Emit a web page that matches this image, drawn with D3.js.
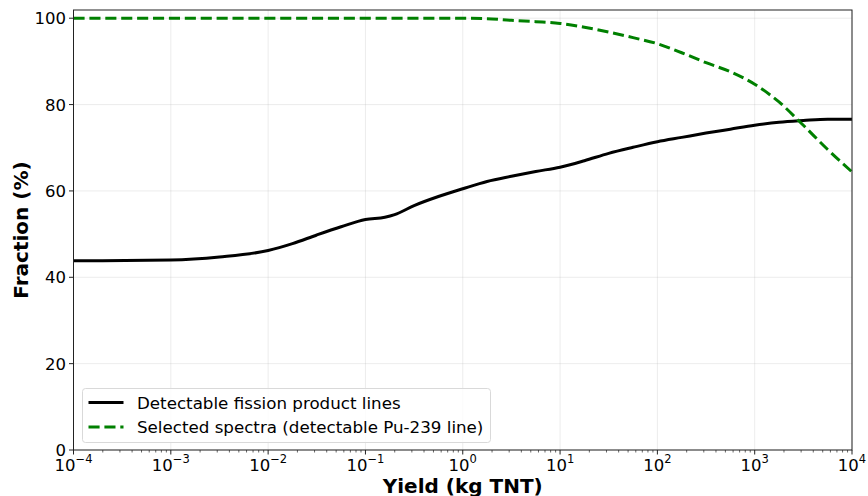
<!DOCTYPE html>
<html>
<head>
<meta charset="utf-8">
<script src="https://cdn.jsdelivr.net/npm/d3@7"></script>
<style>
  html, body { margin: 0; padding: 0; background: #fff; }
  svg { display: block; font-family: "DejaVu Sans", sans-serif; }
</style>
</head>
<body>
<svg id="chart" width="868" height="496"></svg>
<script>
// Yield in kg TNT (log10 exponents) and the fraction of cases (%) for each series
const yieldExp = [-4, -3, -2.5, -2, -1.75, -1.5, -1.25, -1, -0.8, -0.7, -0.5, -0.25, 0, 0.25, 0.5, 0.75, 1, 1.25, 1.5, 1.75, 2, 2.25, 2.5, 2.75, 3, 3.25, 3.5, 3.75, 4];
const fissionLines = [43.8, 44.0, 44.7, 46.2, 47.8, 49.8, 51.7, 53.4, 53.9, 54.5, 56.6, 58.7, 60.5, 62.2, 63.4, 64.5, 65.5, 67.0, 68.7, 70.1, 71.4, 72.4, 73.4, 74.3, 75.2, 75.9, 76.3, 76.6, 76.6];
const puSpectra = [100, 100, 100, 100, 100, 100, 100, 100, 100, 100, 100, 100, 100, 99.9, 99.5, 99.2, 98.8, 97.9, 96.8, 95.5, 94.1, 92.0, 89.7, 87.6, 84.7, 80.6, 75.2, 69.6, 64.4];
const xTickExp = [-4, -3, -2, -1, 0, 1, 2, 3, 4];
const yTicks = [0, 20, 40, 60, 80, 100];
const seriesNames = ["Detectable fission product lines", "Selected spectra (detectable Pu-239 line)"];

const svg = d3.select("#chart");
const m = { left: 73.5, right: 852, top: 10, bottom: 450 };

const x = d3.scaleLog().domain([1e-4, 1e4]).range([m.left, m.right]);
const y = d3.scaleLinear().domain([0, 101.9]).range([m.bottom, m.top]);

// Grid
const grid = svg.append("g");
xTickExp.forEach(e => {
  grid.append("line")
    .attr("x1", x(Math.pow(10, e))).attr("x2", x(Math.pow(10, e)))
    .attr("y1", m.top).attr("y2", m.bottom)
    .attr("stroke", "#b0b0b0").attr("stroke-opacity", 0.3).attr("stroke-width", 0.8);
});
yTicks.forEach(v => {
  grid.append("line")
    .attr("x1", m.left).attr("x2", m.right)
    .attr("y1", y(v)).attr("y2", y(v))
    .attr("stroke", "#b0b0b0").attr("stroke-opacity", 0.3).attr("stroke-width", 0.8);
});

// Series
const line = d3.line()
  .x((d, i) => x(Math.pow(10, yieldExp[i])))
  .y(d => y(d))
  .curve(d3.curveMonotoneX);

const plot = svg.append("g");
plot.append("path").datum(fissionLines)
  .attr("d", line).attr("fill", "none")
  .attr("stroke", "#000").attr("stroke-width", 3).attr("stroke-linejoin", "round");
plot.append("path").datum(puSpectra)
  .attr("d", line).attr("fill", "none")
  .attr("stroke", "#008000").attr("stroke-width", 3).attr("stroke-dasharray", "11.1,4.8");

// Frame
svg.append("rect")
  .attr("x", m.left).attr("y", m.top)
  .attr("width", m.right - m.left).attr("height", m.bottom - m.top)
  .attr("fill", "none").attr("stroke", "#222").attr("stroke-width", 1);

// X axis: major ticks with superscript labels, minor ticks
const xAxisG = svg.append("g").attr("transform", `translate(0,${m.bottom})`);
for (let e = -4; e < 4; e++) {
  for (let k = 2; k <= 9; k++) {
    const xv = x(k * Math.pow(10, e));
    xAxisG.append("line").attr("x1", xv).attr("x2", xv).attr("y1", 0).attr("y2", 2.5)
      .attr("stroke", "#222").attr("stroke-width", 0.7);
  }
}
xTickExp.forEach(e => {
  const xv = x(Math.pow(10, e));
  xAxisG.append("line").attr("x1", xv).attr("x2", xv).attr("y1", 0).attr("y2", 4.5)
    .attr("stroke", "#222").attr("stroke-width", 1);
  const t = xAxisG.append("text")
    .attr("x", xv).attr("y", 20.5)
    .attr("text-anchor", "middle")
    .attr("font-size", 16.5).attr("fill", "#000");
  t.append("tspan").text("10");
  t.append("tspan").attr("dy", -7.5).attr("font-size", 11.5).text(e < 0 ? "\u2212" + (-e) : String(e));
});

// Y axis
const yAxisG = svg.append("g");
yTicks.forEach(v => {
  const yv = y(v);
  yAxisG.append("line").attr("x1", m.left - 4.5).attr("x2", m.left).attr("y1", yv).attr("y2", yv)
    .attr("stroke", "#222").attr("stroke-width", 1);
  yAxisG.append("text")
    .attr("x", m.left - 7.5).attr("y", yv + 6)
    .attr("text-anchor", "end").attr("font-size", 16.5).attr("fill", "#000")
    .text(v);
});

// Axis titles
svg.append("text")
  .attr("x", (m.left + m.right) / 2).attr("y", 493)
  .attr("text-anchor", "middle").attr("font-size", 20).attr("font-weight", "bold")
  .text("Yield (kg TNT)");
svg.append("text")
  .attr("transform", `translate(28,${(m.top + m.bottom) / 2}) rotate(-90)`)
  .attr("text-anchor", "middle").attr("font-size", 20).attr("font-weight", "bold")
  .text("Fraction (%)");

// Legend
const lg = svg.append("g");
lg.append("rect")
  .attr("x", 82.5).attr("y", 388.5).attr("width", 408).attr("height", 54)
  .attr("rx", 3).attr("fill", "#fff").attr("fill-opacity", 0.8)
  .attr("stroke", "#d9d9d9").attr("stroke-width", 1);
const legendStyles = [
  { color: "#000", dash: null },
  { color: "#008000", dash: "11.1,4.8" }
];
seriesNames.forEach((name, i) => {
  const ly = 402.5 + i * 24.5;
  const l = lg.append("line")
    .attr("x1", 88.5).attr("x2", 123.5).attr("y1", ly).attr("y2", ly)
    .attr("stroke", legendStyles[i].color).attr("stroke-width", 3);
  if (legendStyles[i].dash) l.attr("stroke-dasharray", legendStyles[i].dash);
  lg.append("text")
    .attr("x", 137).attr("y", ly + 6)
    .attr("font-size", 16.7).attr("fill", "#000")
    .text(name);
});
</script>
</body>
</html>
